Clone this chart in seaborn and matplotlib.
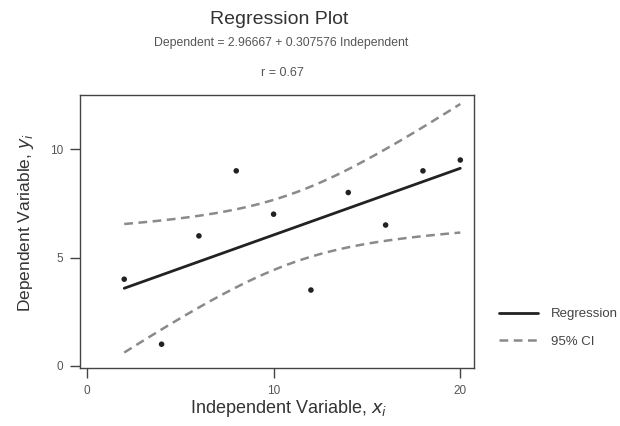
import numpy as np
import pandas as pd
import matplotlib
matplotlib.use("Agg")
import matplotlib.pyplot as plt
import seaborn as sns
from matplotlib.lines import Line2D

# Data
x_vals = [2, 4, 6, 8, 10, 12, 14, 16, 18, 20]
y_vals = [4, 1, 6, 9, 7, 3.5, 8, 6.5, 9, 9.5]
x_ticks = [0, 10, 20]
y_ticks = [0, 5, 10]

sns.set_theme(style="white")
plt.rcParams['font.family'] = ['Liberation Sans', 'DejaVu Sans']

df = pd.DataFrame({"x": x_vals, "y": y_vals})

# Least-squares fit and 95% CI of the mean response
x = np.array(x_vals, float)
y = np.array(y_vals, float)
n = len(x)
xbar, ybar = x.mean(), y.mean()
sxx = ((x - xbar) ** 2).sum()
sxy = ((x - xbar) * (y - ybar)).sum()
slope = sxy / sxx
intercept = ybar - slope * xbar
resid = y - (intercept + slope * x)
s = np.sqrt((resid ** 2).sum() / (n - 2))
t_crit = 2.306004  # t(0.975, 8)
r = np.corrcoef(x, y)[0, 1]

xg = np.linspace(x.min(), x.max(), 60)
fit = intercept + slope * xg
half = t_crit * s * np.sqrt(1 / n + (xg - xbar) ** 2 / sxx)
fit_df = pd.DataFrame({"x": xg, "fit": fit, "lo": fit - half, "hi": fit + half})

fig = plt.figure(figsize=(6.2, 4.26), dpi=100)
ax = fig.add_axes([0.129, 0.136, 0.636, 0.641])

dash = (0, (3.5, 2.2))
sns.lineplot(data=fit_df, x="x", y="hi", ax=ax, color="#8a8a8a", lw=1.8,
             linestyle=dash)
sns.lineplot(data=fit_df, x="x", y="lo", ax=ax, color="#8a8a8a", lw=1.8,
             linestyle=dash)
sns.lineplot(data=fit_df, x="x", y="fit", ax=ax, color="#222222", lw=2.0)
sns.scatterplot(data=df, x="x", y="y", ax=ax, color="#222222", s=16,
                edgecolor="none", zorder=5)

ax.set_xlim(-0.37, 20.75)
ax.set_ylim(-0.1, 12.5)
ax.set_xticks(x_ticks)
ax.set_yticks(y_ticks)
ax.tick_params(axis="both", which="major", direction="out", length=7,
               width=1, color="#444444", labelsize=8.5, labelcolor="#555555",
               bottom=True, left=True, pad=5)
for sp in ax.spines.values():
    sp.set_color("#444444")
    sp.set_linewidth(1.0)

ax.set_xlabel(r"Independent Variable, $x_i$", fontsize=13, color="#333333")
ax.set_ylabel(r"Dependent Variable, $y_i$", fontsize=12.5, color="#333333")
ax.xaxis.set_label_coords(0.528, -0.11)
ax.yaxis.set_label_coords(-0.112, 0.531)

fig.text(0.45, 0.955, "Regression Plot", ha="center", va="center",
         fontsize=14, color="#333333")
fig.text(0.453, 0.899,
         f"Dependent = {intercept:.5f} + {slope:.6f} Independent",
         ha="center", va="center", fontsize=8.8, color="#555555")
fig.text(0.455, 0.829, f"r = {r:.2f}", ha="center", va="center",
         fontsize=9, color="#555555")

handles = [Line2D([], [], color="#222222", lw=2.0),
           Line2D([], [], color="#8a8a8a", lw=1.8, linestyle=dash)]
fig.legend(handles, ["Regression", "95% CI"], loc="center left",
           bbox_to_anchor=(0.785, 0.23), frameon=False, fontsize=9.5,
           handlelength=3.0, handletextpad=1.0, labelspacing=1.15,
           labelcolor="#444444")

fig.savefig("out.png", dpi=100)
